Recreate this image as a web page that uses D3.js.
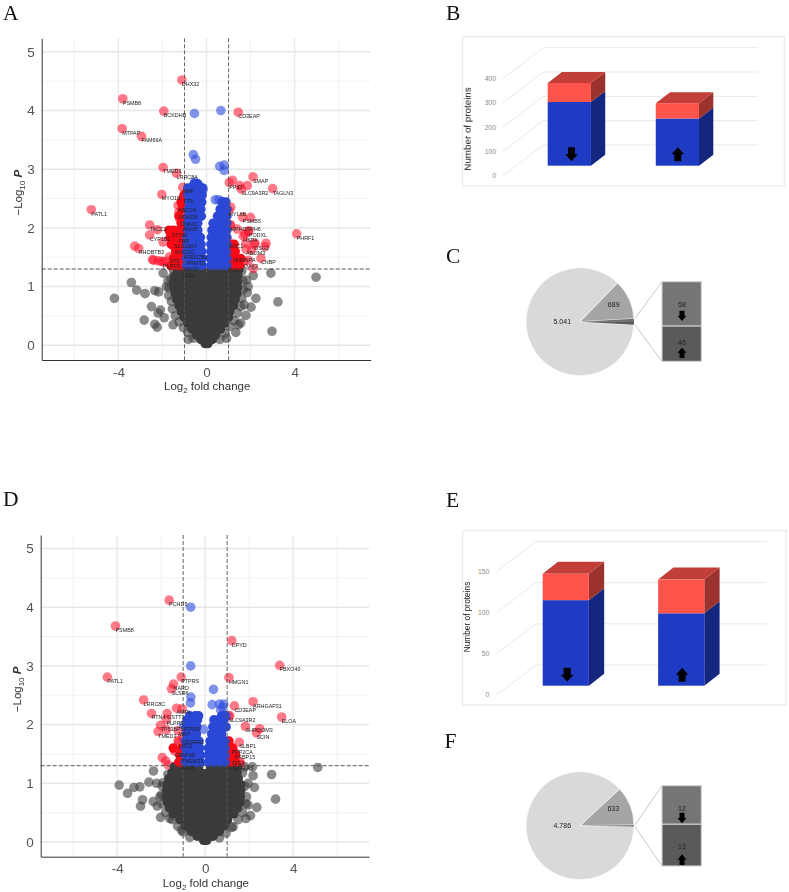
<!DOCTYPE html>
<html><head><meta charset="utf-8">
<script src="https://cdn.jsdelivr.net/npm/d3@7"></script>
<style>html,body{margin:0;background:#fff}svg{display:block;filter:blur(.35px)}text{font-family:"Liberation Sans",Arial,sans-serif}</style>
</head><body><svg id="c" width="789" height="892"></svg>
<script>
// ---------- Panel A data: log2 fold change, -log10 P ----------
const labelsA=[["DHX32",-1.12,4.52],["PSMB8",-3.8,4.2],["BCKDHB",-1.94,3.99],["CD3EAP",1.44,3.97],["MTPAP",-3.83,3.69],["FAM69A",-2.95,3.56],["TMED3",-1.97,3.03],["LRRC8A",-1.36,2.93],["SMAP",2.11,2.87],["PPID",1.03,2.77],["SLC9A3R2",1.58,2.66],["TAGLN3",3,2.67],["NMF",-1.08,2.69],["FTS",-1.05,2.52],["MYO1B",-2.03,2.57],["ABCC4",-1.29,2.38],["HDHD5",-1.26,2.26],["PATL1",-5.23,2.31],["MYL6B",1,2.3],["PSMB5",1.64,2.18],["DNAJC",-1.2,2.14],["TACC2",-2.58,2.05],["ANO6",-1.08,2.05],["MPHOSPH6",1.09,2.05],["STOM",-1.58,1.95],["PODXL",1.92,1.95],["CYP1B1",-2.58,1.88],["PHRF1",4.09,1.9],["FBP",-1.27,1.85],["HSPA",1.67,1.86],["SLC16A7",-1.48,1.76],["SOC1",1,1.76],["DSG2",2.17,1.72],["RHOBTB3",-3.08,1.65],["MYO1C",-1.42,1.66],["ABLIM3",1.79,1.64],["HSD17B1",-1.03,1.57],["HNRNPA",1.21,1.53],["ST5",-1.67,1.51],["PRMT2",-.91,1.47],["CNBP",2.47,1.48],["DAK3",1.7,1.42],["PLPP3",-1.97,1.42],["ANO3",-1.06,1.36],["PGM1",1,1.35],["YES1",-1.14,1.26]];
const looseA=[[-4.18,.8],[-3.41,1.07],[-3.17,.94],[-2.79,.88],[-2.35,.93],[-2.17,.91],[-2.5,.66],[-2.09,.6],[-2.2,.55],[-1.92,.47],[-2.83,.43],[-2.35,.36],[-2.24,.31],[-1.52,.35],[-1.97,1.23],[-1.62,1.14],[-1.82,1],[4.97,1.16],[2.92,1.23],[2.24,.8],[3.24,.74],[2.97,.24],[2.02,.65],[1.71,.69],[2.12,1.19],[1.82,1.11],[1.89,1],[1.85,.9],[1.79,.51],[1.55,.38],[1.33,.22],[1.44,.35],[-.83,.1],[.91,.12],
[-1.75,1.1],[-1.7,.98],[-1.72,.85],[-1.6,.75],[-1.55,.62],[-1.42,.5],[-1.25,.4],[-1.05,.3],[-.85,.22],[-.6,.12],[1.65,1.1],[1.66,.95],[1.6,.8],[1.55,.66],[1.4,.55],[1.25,.42],[1.05,.32],[.85,.2],[.6,.1],[-1.5,1.27],[1.6,1.26],
[-3.26,1.69],[-2.23,1.97],[-1.97,1.76],[-1.1,2.38],[1.1,2.35],[1.18,2.81],[1.85,2.72],[1.5,2.72],[1.06,2.05],[1.39,1.98],[1.74,1.9],[1.9,1.94],[2.2,1.74],[2.05,1.62],[2.7,1.74],[2.65,1.68],[1.9,1.45],[2.12,1.31],[2,2.18],[1.79,1.74],[-2.4,1.45],[-2.2,1.44],[-2.05,1.43],[-1.85,1.43],[-2.45,1.46],
[-.55,3.95],[.65,4],[-.6,3.25],[-.5,3.17],[.6,3.05],[.8,3.07],[.8,2.98],[.4,2.48],[.55,2.48],[.7,2.45],[-.35,2.72],[-.15,2.65],[-.55,2.78]];
const denseA=[[1.28,[-1.32,-1.05,-.78,-.5,-.22,.2,.48,.75,1.02,1.28,1.45]],[1.18,[-1.45,-1.2,-.95,-.68,-.4,-.15,.12,.38,.65,.92,1.18,1.42]],[1.08,[-1.5,-1.25,-.98,-.72,-.45,-.18,.1,.36,.62,.9,1.16,1.4]],[.98,[-1.48,-1.22,-.95,-.7,-.42,-.15,.12,.4,.66,.92,1.2,1.42]],[.88,[-1.42,-1.18,-.92,-.66,-.4,-.14,.12,.38,.64,.9,1.16,1.38]],[.78,[-1.35,-1.1,-.86,-.6,-.35,-.1,.15,.4,.65,.9,1.15,1.3]],[.68,[-1.25,-1,-.76,-.5,-.25,0,.25,.5,.75,1,1.22]],[.58,[-1.15,-.9,-.66,-.42,-.18,.08,.32,.56,.8,1.05]],[.48,[-1.02,-.8,-.56,-.32,-.1,.14,.38,.62,.85,1]],[.38,[-.85,-.62,-.4,-.18,.04,.26,.48,.7,.82]],[.28,[-.66,-.44,-.22,0,.22,.44,.64]],[.18,[-.46,-.24,-.02,.2,.42]],[.1,[-.26,-.08,.1,.26]],[.03,[-.06,.06]]];
const wingsA=[[1.36,[-.9,-.65,-.4,-.2,.2,.45,.7,.92,-1.62,-1.4,-1.2,-1.05,1.05,1.25,1.5]],[1.48,[-.9,-.65,-.42,-.2,.18,.42,.68,.92,-1.5,-1.25,-1.05,1.05,1.3,1.55]],[1.6,[-.9,-.65,-.42,-.22,.2,.42,.68,.9,-1.4,-1.2,-1.05,1.05,1.3]],[1.72,[-.88,-.65,-.42,-.25,.2,.45,.7,.92,-1.6,-1.35,-1.1,1.05,1.25]],[1.84,[-.88,-.65,-.45,-.28,.22,.45,.7,.92,-1.65,-1.4,-1.15]],[1.96,[-.85,-.62,-.4,.25,.48,.72,.92,-1.7,-1.5,-1.25,-1.05]],[2.08,[-.85,-.62,-.4,.3,.55,.78,.92,-1.15]],[2.2,[-.85,-.62,-.42,-.24,.5,.72,.92,-1.25]],[2.32,[-.82,-.6,-.42,-.26,.62,.8,.92,-1.1]],[2.44,[-.8,-.58,-.38,-.22,.72,.88,-1.15]],[2.56,[-.85,-.6,-.35,-.2,-1.02]],[2.68,[-.85,-.7,-.5,-.3,-.18]],[2.75,[-.55,-.4]]];

// ---------- Panel D data ----------
const labelsD=[["PCHD5",-1.64,4.12],["PSMB8",-4.08,3.68],["DPYD",1.21,3.43],["FBXO40",3.39,3.01],["PATL1",-4.45,2.81],["PTPRS",-1.09,2.81],["HMGN1",1.08,2.8],["NARD",-1.44,2.69],["SLSR6",-1.53,2.61],["LRRC8C",-2.8,2.42],["ARHGAP31",2.18,2.39],["CD3EAP",1.33,2.32],["AMPL",-1.3,2.28],["RTN4",-2.44,2.19],["GSTT1",-1.73,2.19],["SLC9A3R2",1.06,2.15],["ELOA",3.48,2.13],["PLPP3",-1.76,2.09],["TP53BP1",-2.03,1.99],["PTAR1",-.98,1.99],["SHROOM3",1.83,1.97],["SCIN",2.33,1.86],["TMED3",-2.14,1.88],["MAP",-1.23,1.9],["VEGFR1",-1.03,1.78],["LPO1",-1.2,1.7],["SLBP1",1.55,1.7],["PPP2CA",1.2,1.61],["CFAP99",-1.39,1.55],["FKBP15",1.36,1.52],["DIS3",1.23,1.41],["TMEM33",-1.08,1.45],["COP1",-1.08,1.33],["CSK",1.06,1.33],["FAP5",1.6,1.33]];
const looseD=[[-3.91,.97],[-3.53,.83],[-3.24,.93],[-2.97,.94],[-2.85,.72],[-2.94,.61],[-2.35,1.21],[-2.56,1.02],[-2.21,1],[-1.91,1.01],[-2.36,.69],[-2.18,.61],[-2.03,.42],[-1.61,.4],[-1.08,.2],[-2.06,.77],[5.12,1.27],[3.02,1.15],[3.2,.73],[2.24,.93],[2.35,.59],[1.95,.63],[1.85,.4],[2.06,.45],[2.18,1.13],[2.15,1.28],[1.8,1.28],[1.88,.77],[1.95,1],[1.27,.26],
[-1.95,.95],[-2,.8],[-1.95,.65],[-1.8,.5],[-1.5,.38],[-1.25,.27],[-1,.17],[-.7,.08],[-1.7,1.15],[1.7,1.18],[1.8,.95],[1.85,.65],[1.7,.5],[1.5,.38],[1.2,.25],[.95,.15],[.65,.07],
[-1.76,1.91],[-1.23,1.73],[-1.95,1.44],[-1.8,1.38],[-1.68,1.31],[1.58,1.37],[1.12,2.15],[2.48,1.93],[-1.05,2.27],
[-.66,4],[-.66,3],[-.65,2.47],[-.67,2.37],[.38,2.6],[.32,2.34],[.65,2.35],[.85,2.35],[.8,2.3],[.7,2.25],[.95,2.15],[-.07,1.92]];
const denseD=[[1.28,[-1.4,-1.12,-.85,-.58,-.3,.25,.52,.8,1.05,1.3,1.45]],[1.18,[-1.5,-1.25,-1,-.72,-.46,-.2,.14,.4,.68,.94,1.2,1.45]],[1.08,[-1.65,-1.4,-1.12,-.86,-.6,-.32,-.08,.16,.42,.7,.96,1.22,1.5]],[.98,[-1.72,-1.45,-1.2,-.92,-.66,-.4,-.14,.12,.38,.64,.9,1.18,1.45,1.6]],[.88,[-1.75,-1.5,-1.22,-.96,-.7,-.44,-.18,.08,.34,.6,.86,1.12,1.4,1.62]],[.78,[-1.78,-1.52,-1.25,-1,-.74,-.48,-.22,.04,.3,.56,.82,1.08,1.35,1.6]],[.68,[-1.72,-1.48,-1.2,-.94,-.68,-.42,-.16,.1,.36,.62,.88,1.14,1.4,1.58]],[.58,[-1.62,-1.38,-1.1,-.85,-.6,-.34,-.08,.18,.44,.7,.96,1.2,1.48]],[.48,[-1.45,-1.2,-.94,-.7,-.44,-.18,.08,.34,.6,.85,1.1,1.3]],[.38,[-1.15,-.9,-.66,-.42,-.18,.06,.3,.54,.78,1.02]],[.28,[-.9,-.68,-.44,-.2,.04,.28,.52,.76,.88]],[.18,[-.64,-.42,-.2,.02,.24,.46,.64]],[.1,[-.36,-.16,.04,.24,.36]],[.03,[-.07,.07]]];
const wingsD=[[1.36,[-.9,-.65,-.4,-.22,.15,.4,.65,.9,-1.2,-1.08,1.05,1.22,1.38]],[1.48,[-.9,-.65,-.42,-.22,.15,.4,.65,.9,-1.15,1.05,1.22,1.38]],[1.6,[-.9,-.65,-.42,-.25,.15,.4,.65,.9,-1.45,-1.05,1.05,1.25]],[1.72,[-.9,-.65,-.45,-.28,.22,.45,.68,.9,1.08]],[1.84,[-.85,-.62,-.4,.3,.52,.75]],[1.96,[-.85,-.6,-.38,.35,.55,.8,.95]],[2.08,[-.82,-.58,-.35,.4,.62,.85]],[2.15,[-.7,-.45,-.3,.75,.9]]];

// ---------- Bars and pies ----------
const barCats=["down","up"];
const barBlueB=[262,194], barRedB=[78,63], barTicksB=[0,100,200,300,400];
const barBlueE=[104,88], barRedE=[32,41], barTicksE=[0,50,100,150];
const pieC=[5041,689,58,46], pieF=[4786,633,12,13];
const pieTextC=["5.041","689","58","46"], pieTextF=["4.786","633","12","13"];

const svg=d3.select("#c");
const cls=(x,y)=>y<1.3?"g":Math.abs(x)>=1?"r":"b";
const light={g:"rgba(60,60,60,.6)",r:"rgba(255,12,40,.55)",b:"rgba(50,80,222,.62)"};
const solid={g:"#3b3b3b",r:"#fa0a16",b:"#2b47d6"};

function volcano(labels,loose,dense,wings,L,R,T,B){
  const g=svg.append("g");
  const x=d3.scaleLinear().domain([-7.48,7.45]).range([L,R]);
  const y=d3.scaleLinear().domain([-.25,5.23]).range([B,T]);
  const gx=d3.range(-6,7,2), gy=d3.range(0,5.5,.5);
  g.selectAll(".gv").data(gx).join("line").attr("x1",x).attr("x2",x).attr("y1",T).attr("y2",B)
    .attr("stroke",d=>d%4==0?"#e9e9e9":"#f0f0f0").attr("stroke-width",d=>d%4==0?1.4:1);
  g.selectAll(".gh").data(gy).join("line").attr("y1",y).attr("y2",y).attr("x1",L).attr("x2",R)
    .attr("stroke",d=>d%1==0?"#e6e6e6":"#f0f0f0").attr("stroke-width",d=>d%1==0?1.5:.9);
  const pts=[...labels.map(d=>[d[1],d[2]]),...loose];
  const r=4.8;
  const order={g:0,r:1,b:2};
  g.append("g").selectAll("circle").data(pts.slice().sort((a,b)=>order[cls(...a)]-order[cls(...b)])).join("circle")
    .attr("cx",d=>x(d[0])).attr("cy",d=>y(d[1])).attr("r",r).attr("fill",d=>light[cls(...d)]);
  const flat=rows=>rows.flatMap(([yy,xs])=>xs.map(v=>[v,yy]));
  const core=[...flat(wings),...flat(dense)].sort((a,b)=>order[cls(...a)]-order[cls(...b)]);
  g.append("g").selectAll("circle").data(core).join("circle")
    .attr("cx",d=>x(d[0])).attr("cy",d=>y(d[1])).attr("r",r).attr("fill",d=>solid[cls(...d)]);
  // thresholds
  g.selectAll(".tv").data([-1,1]).join("line").attr("x1",x).attr("x2",x).attr("y1",T).attr("y2",B)
    .attr("stroke","#555").attr("stroke-width",.9).attr("stroke-dasharray","4 2");
  g.append("line").attr("x1",L).attr("x2",R).attr("y1",y(1.3)).attr("y2",y(1.3))
    .attr("stroke","#444").attr("stroke-width",.9).attr("stroke-dasharray","4 2");
  // labels
  g.append("g").selectAll("text").data(labels).join("text")
    .attr("x",d=>x(d[1])).attr("y",d=>y(d[2])+6).attr("font-size",5.4).attr("fill","#222").text(d=>d[0]);
  // axes
  const ax=g.append("g").attr("transform",`translate(0,${B})`).call(d3.axisBottom(x).tickValues([-4,0,4]).tickFormat(d=>String(d)).tickSize(0).tickPadding(7));
  const ay=g.append("g").attr("transform",`translate(${L},0)`).call(d3.axisLeft(y).tickValues([0,1,2,3,4,5]).tickFormat(d=>String(d)).tickSize(0).tickPadding(7));
  [ax,ay].forEach(a=>{a.selectAll("text").attr("font-size",13.5).attr("fill","#555").attr("font-family","Liberation Sans");
    a.select(".domain").attr("stroke","#333").attr("stroke-width",1);});
  const xt=g.append("text").attr("x",(L+R)/2+1).attr("y",B+30).attr("text-anchor","middle").attr("font-size",11.5).attr("fill","#333");
  xt.append("tspan").text("Log");xt.append("tspan").attr("dy",3).attr("font-size",8).text("2");xt.append("tspan").attr("dy",-3).text(" fold change");
  const cy=y(2.6);
  const yt=g.append("text").attr("transform",`translate(${L-20},${cy}) rotate(-90)`).attr("text-anchor","middle").attr("font-size",11.5).attr("fill","#333");
  yt.append("tspan").text("\u2212Log");yt.append("tspan").attr("dy",3).attr("font-size",8).text("10");
  yt.append("tspan").attr("dy",-3).attr("font-style","italic").attr("font-weight","bold").text(" P");
}
volcano(labelsA,looseA,denseA,wingsA,41.7,370.7,38.3,360);
volcano(labelsD,looseD,denseD,wingsD,40.7,369,535,856.7);

function arrow(g,cx,y0,y1,w,sw,up){
  // block arrow between y0 (top) and y1 (bottom)
  const h=(y1-y0)*.5;
  const p=d3.path();
  if(up){p.moveTo(cx,y0);p.lineTo(cx+w/2,y0+h);p.lineTo(cx+sw/2,y0+h);p.lineTo(cx+sw/2,y1);p.lineTo(cx-sw/2,y1);p.lineTo(cx-sw/2,y0+h);p.lineTo(cx-w/2,y0+h);}
  else{p.moveTo(cx,y1);p.lineTo(cx+w/2,y1-h);p.lineTo(cx+sw/2,y1-h);p.lineTo(cx+sw/2,y0);p.lineTo(cx-sw/2,y0);p.lineTo(cx-sw/2,y1-h);p.lineTo(cx-w/2,y1-h);}
  p.closePath();
  g.append("path").attr("d",p.toString()).attr("fill","#000");
}
function bars(o){
  const g=svg.append("g");
  g.append("rect").attr("x",o.frame[0]).attr("y",o.frame[1]).attr("width",o.frame[2]-o.frame[0]).attr("height",o.frame[3]-o.frame[1]).attr("fill","#fff").attr("stroke","#e6e6e6");
  const y=d3.scaleLinear().domain(o.dom).range(o.yr);
  const x=d3.scaleBand().domain(barCats).range(o.xr).paddingInner(.6).paddingOuter(0);
  g.selectAll(".w").data(o.ticks).join("line").attr("x1",o.wall[0]).attr("x2",o.wall[1]).attr("y1",d=>y(d)+o.wallDy).attr("y2",d=>y(d)+o.wallDy).attr("stroke","#e8e8e8");
  g.selectAll(".d").data(o.ticks).join("line").attr("x1",o.diagX).attr("x2",o.wall[0]).attr("y1",y).attr("y2",d=>y(d)+o.wallDy).attr("stroke","#e8e8e8");
  g.selectAll(".t").data(o.ticks).join("text").attr("x",o.tickX).attr("y",y).attr("dy",".35em").attr("text-anchor","end").attr("font-size",6.8).attr("fill","#8c8c8c").text(d=>d);
  g.append("text").attr("transform",`translate(${o.title[0]},${o.title[1]}) rotate(-90)`).attr("text-anchor","middle").attr("font-size",o.title[2]).attr("fill","#111").text("Number of proteins");
  const [dx,dy]=o.depth, by=o.barDy;
  const poly=(pts,f)=>g.append("polygon").attr("points",pts.map(p=>p.join(",")).join(" ")).attr("fill",f);
  barCats.forEach((c,i)=>{
    const x0=x(c),x1=x0+x.bandwidth();
    const yb=y(0)+by,ym=y(o.blue[i])+by,yt=y(o.blue[i]+o.red[i])+by;
    poly([[x1,yb],[x1+dx,yb-dy],[x1+dx,ym-dy],[x1,ym]],"#15267e");
    poly([[x1,ym],[x1+dx,ym-dy],[x1+dx,yt-dy],[x1,yt]],"#9c322d");
    poly([[x0,yt],[x1,yt],[x1+dx,yt-dy],[x0+dx,yt-dy]],"#c23e38");
    g.append("rect").attr("x",x0).attr("y",ym).attr("width",x1-x0).attr("height",yb-ym).attr("fill","#1f3bc4");
    g.append("rect").attr("x",x0).attr("y",yt).attr("width",x1-x0).attr("height",ym-yt).attr("fill","#ff544b");
    arrow(g,x0+(x1-x0)*o.arrowAt[i],yb-o.arrowSpan[0],yb-o.arrowSpan[1],12.5,7,c=="up");
  });
}
bars({frame:[462.7,36.7,784.3,186],dom:[0,400],yr:[176,78.7],xr:[547.7,699],ticks:barTicksB,wall:[543.3,758.3],wallDy:-31,diagX:502.7,tickX:496,title:[470.7,129,9.8],depth:[14.3,11],barDy:-10.3,blue:barBlueB,red:barRedB,arrowAt:[.55,.51],arrowSpan:[18.5,4.5]});
bars({frame:[462.7,530.7,786,705],dom:[0,150],yr:[694.7,571.3],xr:[542.7,704.3],ticks:barTicksE,wall:[536,766.7],wallDy:-29.7,diagX:496.7,tickX:489.3,title:[470.3,617,8.3],depth:[15.3,12],barDy:-9,blue:barBlueE,red:barRedE,arrowAt:[.53,.52],arrowSpan:[18,4]});

function pie(data,txt,cx,cy,o){
  const g=svg.append("g");
  const R=54, total=d3.sum(data), tiny=data[2]+data[3];
  const a0=Math.PI/2+tiny/total*Math.PI;
  const arcs=d3.pie().sort(null).startAngle(a0).endAngle(a0+2*Math.PI)(data);
  const fills=["#d9d9d9","#a5a5a5","#6f6f6f","#5a5a5a"];
  const arc=d3.arc().innerRadius(0).outerRadius(R);
  const gp=g.append("g").attr("transform",`translate(${cx},${cy})`);
  gp.selectAll("path").data(arcs).join("path").attr("d",arc).attr("fill",(d,i)=>fills[i]).attr("stroke",(d,i)=>i<2?"#fff":"none").attr("stroke-width",.7);
  const edge=a=>[cx+(R+1)*Math.sin(a),cy-(R+1)*Math.cos(a)];
  const by=d3.scaleLinear().domain([0,data[2]+data[3]]).range([o.top,o.bottom]);
  const bx0=662,bx1=701.3, mid=by(data[2]);
  const s0=edge(a0-tiny/total*2*Math.PI), s1=edge(a0);
  g.append("line").attr("x1",s0[0]).attr("y1",s0[1]).attr("x2",bx0).attr("y2",o.top).attr("stroke","#c8c8c8");
  g.append("line").attr("x1",s1[0]).attr("y1",s1[1]).attr("x2",bx0).attr("y2",o.bottom).attr("stroke","#c8c8c8");
  g.append("rect").attr("x",bx0).attr("y",o.top).attr("width",bx1-bx0).attr("height",mid-o.top).attr("fill","#757575").attr("stroke","#d4d4d4");
  g.append("rect").attr("x",bx0).attr("y",mid).attr("width",bx1-bx0).attr("height",o.bottom-mid).attr("fill","#5a5a5a").attr("stroke","#d4d4d4");
  const lab=(t,x,y)=>g.append("text").attr("x",x).attr("y",y).attr("dy",".35em").attr("text-anchor","middle").attr("font-size",7).attr("fill","#222").text(t);
  lab(txt[0],o.tx0,cy);lab(txt[1],o.tx1,o.ty1);lab(txt[2],682,o.ty2);lab(txt[3],682,o.ty3);
  arrow(g,682,o.a1[0],o.a1[1],9,5,false);
  arrow(g,682,o.a2[0],o.a2[1],9,5,true);
}
pie(pieC,pieTextC,580,321.7,{top:281.7,bottom:361.3,tx0:562.3,tx1:613.7,ty1:304.3,ty2:304.3,ty3:342.7,a1:[310.7,321],a2:[347.7,358]});
pie(pieF,pieTextF,580,825.7,{top:785.7,bottom:866,tx0:562.3,tx1:613.3,ty1:808.3,ty2:808.3,ty3:846.7,a1:[812.7,823.3],a2:[854.3,865]});

const panelLetters=["A","B","C","D","E","F"];
const letterX=[3,446,446,3,446,444.5], letterY=[19.5,19.5,263,506,506.7,748];
svg.selectAll(".pl").data(panelLetters).join("text").attr("x",(d,i)=>letterX[i]).attr("y",(d,i)=>letterY[i])
  .attr("font-size",21.5).attr("fill","#111").style("font-family","'Liberation Serif',serif").text(d=>d);
</script></body></html>
